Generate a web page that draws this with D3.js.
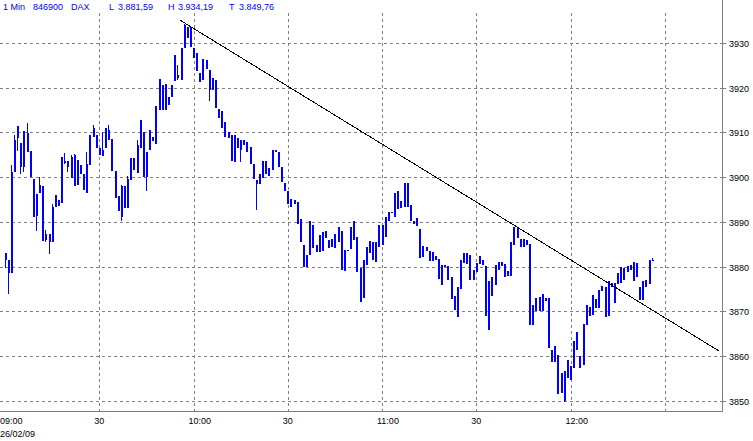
<!DOCTYPE html>
<html><head><meta charset="utf-8">
<script src="https://cdn.jsdelivr.net/npm/d3@7"></script>
<style>
body{margin:0;background:#fff}
svg{display:block}
text{font-family:"Liberation Sans",Arial,sans-serif;font-size:9px}
</style>
</head><body>
<svg id="chart" width="753" height="441"></svg>
<script>
// ---- DATA (1-minute bars, DAX 26/02/09, starting 09:00) ----
const highs = [3883.0,3881.5,3902.7,3909.4,3911.5,3907.6,3910.2,3912.0,3905.8,3899.6,
3896.2,3900.1,3898.0,3888.2,3887.3,3894.0,3896.0,3895.0,3904.6,3905.3,
3903.6,3904.9,3905.2,3903.8,3902.7,3900.8,3905.5,3909.4,3911.6,3909.4,
3906.6,3910.0,3910.9,3911.6,3908.5,3901.4,3895.8,3898.2,3898.0,3900.3,
3904.2,3904.2,3908.3,3912.8,3910.0,3905.5,3910.5,3909.0,3915.9,3921.9,
3920.6,3920.8,3917.8,3920.6,3927.3,3925.0,3928.9,3934.19,3933.6,3933.6,
3928.8,3927.8,3923.3,3926.4,3926.2,3923.9,3922.2,3921.7,3915.2,3914.8,
3912.2,3910.0,3909.3,3909.3,3908.7,3908.3,3908.3,3907.8,3906.8,3902.9,
3899.4,3900.8,3903.6,3903.5,3902.1,3906.1,3906.1,3905.7,3902.3,3898.6,
3896.8,3895.1,3894.9,3894.4,3890.6,3884.8,3882.6,3890.1,3889.3,3884.8,
3887.1,3887.8,3888.0,3886.0,3886.1,3887.4,3888.9,3888.0,3883.7,3883.7,
3888.8,3890.1,3886.7,3879.8,3881.6,3884.5,3885.8,3885.4,3885.4,3889.2,
3889.2,3891.2,3892.1,3892.3,3896.5,3896.8,3894.7,3898.6,3898.6,3893.8,
3890.3,3890.8,3888.4,3884.6,3884.5,3883.4,3883.2,3882.4,3881.7,3880.4,
3880.4,3880.2,3877.8,3873.5,3875.5,3881.5,3883.1,3883.1,3882.6,3879.3,
3880.9,3882.4,3881.5,3880.2,3876.7,3877.8,3880.4,3881.1,3881.1,3880.7,
3879.1,3885.4,3888.9,3888.8,3886.1,3886.1,3886.0,3885.1,3871.4,3872.9,
3873.3,3873.9,3873.1,3872.9,3861.5,3862.3,3860.3,3856.2,3856.6,3859.2,
3857.8,3863.5,3865.5,3860.1,3867.3,3871.4,3870.9,3873.7,3872.7,3874.9,
3875.7,3875.5,3876.7,3876.4,3876.4,3878.5,3879.9,3879.6,3880.2,3880.4,
3881.1,3880.9,3875.4,3876.9,3877.0,3881.6,3881.9];
const lows = [3879.6,3874.0,3878.5,3901.2,3905.9,3900.8,3901.2,3905.7,3900.0,3891.0,
3888.0,3896.5,3885.8,3885.4,3882.8,3885.4,3893.3,3893.6,3894.3,3902.9,
3901.2,3899.7,3898.0,3898.2,3900.8,3897.1,3896.5,3902.7,3909.0,3906.6,
3904.9,3904.8,3906.4,3908.4,3901.4,3895.3,3892.5,3890.3,3893.2,3893.2,
3899.4,3901.6,3901.0,3906.4,3900.0,3897.0,3906.1,3908.1,3907.4,3915.1,
3915.0,3915.1,3916.1,3917.8,3921.5,3921.7,3921.8,3928.8,3931.0,3929.0,
3926.5,3923.6,3921.3,3921.8,3924.2,3917.0,3919.5,3915.4,3913.3,3910.9,
3909.0,3908.7,3903.6,3903.3,3906.6,3903.3,3907.2,3905.7,3902.9,3899.6,
3892.7,3898.4,3899.9,3900.8,3900.3,3901.6,3905.5,3902.3,3898.8,3896.9,
3894.1,3893.4,3894.1,3889.5,3885.6,3880.0,3880.0,3882.6,3884.1,3883.2,
3883.2,3883.4,3886.3,3884.1,3884.3,3884.1,3885.6,3879.3,3879.1,3883.4,
3883.9,3886.0,3878.9,3872.0,3873.1,3880.4,3883.0,3881.5,3881.1,3884.5,
3884.8,3886.7,3890.3,3891.9,3891.2,3892.9,3893.0,3893.4,3893.4,3890.2,
3889.5,3889.1,3881.9,3882.1,3883.4,3881.3,3881.3,3881.6,3877.2,3875.9,
3879.9,3877.0,3872.8,3870.3,3868.8,3875.0,3880.9,3880.7,3877.0,3877.0,
3878.9,3880.7,3880.4,3869.0,3865.9,3873.5,3876.0,3879.3,3880.2,3877.8,
3877.9,3877.9,3884.8,3886.3,3884.3,3884.5,3884.8,3867.0,3867.0,3870.0,
3870.0,3870.0,3872.4,3861.8,3858.6,3858.8,3851.5,3851.7,3849.76,3855.1,
3854.8,3857.3,3861.5,3857.3,3858.0,3867.0,3869.0,3869.2,3870.7,3870.7,
3874.6,3868.7,3869.0,3875.4,3871.8,3876.1,3876.4,3877.0,3878.9,3879.3,
3876.7,3877.8,3872.6,3872.6,3875.4,3876.1,3881.5];
const opens = [3883.0,3881.5,3878.5,3901.2,3911.5,3907.6,3902.3,3909.8,3905.8,3899.6,
3891.3,3896.5,3898.0,3887.4,3885.4,3885.4,3893.3,3893.6,3894.3,3903.1,
3903.6,3899.7,3904.9,3898.2,3902.7,3900.8,3896.5,3902.7,3909.0,3909.4,
3906.6,3904.8,3906.4,3910.5,3908.5,3901.4,3895.8,3891.0,3898.0,3893.2,
3899.4,3904.2,3901.0,3906.4,3910.0,3900.0,3906.1,3908.1,3907.4,3915.1,
3920.6,3915.1,3917.8,3917.8,3921.5,3922.8,3921.8,3928.8,3931.0,3933.6,
3928.8,3927.8,3923.3,3921.8,3926.2,3923.9,3919.5,3921.7,3915.2,3914.8,
3912.2,3910.0,3909.3,3903.3,3906.6,3906.1,3908.3,3907.8,3906.8,3902.9,
3899.4,3898.4,3899.9,3903.5,3900.3,3901.6,3906.1,3905.7,3902.3,3898.6,
3896.8,3895.1,3894.1,3894.4,3890.6,3884.8,3880.0,3882.6,3889.3,3884.8,
3883.2,3883.4,3888.0,3886.0,3884.3,3884.1,3885.6,3888.0,3879.1,3883.4,
3883.9,3890.1,3886.7,3879.8,3873.1,3880.4,3883.0,3885.4,3881.1,3884.5,
3884.8,3886.7,3890.3,3891.9,3891.2,3896.8,3893.0,3893.4,3898.6,3893.8,
3890.3,3889.1,3888.4,3882.1,3884.5,3883.4,3881.3,3882.4,3881.7,3875.9,
3880.4,3880.2,3877.8,3873.5,3868.8,3875.0,3880.9,3883.1,3882.6,3877.0,
3878.9,3880.7,3881.5,3880.2,3865.9,3873.5,3876.0,3879.3,3881.1,3880.7,
3877.9,3877.9,3884.8,3888.8,3886.1,3884.5,3886.0,3885.1,3867.0,3870.0,
3873.3,3870.0,3873.1,3872.9,3861.5,3858.8,3860.3,3851.7,3850.0,3855.1,
3857.8,3857.3,3865.5,3860.1,3858.0,3867.0,3870.9,3869.2,3872.7,3870.7,
3874.6,3875.5,3869.0,3876.4,3871.8,3876.1,3876.4,3877.0,3878.9,3879.3,
3881.1,3880.9,3875.4,3872.6,3875.4,3876.1,3881.5];
const closes = [3881.5,3878.5,3901.2,3908.3,3908.7,3902.3,3910.2,3905.7,3900.0,3891.2,
3896.2,3898.2,3885.8,3886.0,3887.3,3893.4,3896.0,3895.0,3904.6,3903.5,
3902.3,3904.6,3898.0,3903.8,3900.8,3897.1,3902.9,3909.4,3910.9,3906.6,
3904.9,3906.1,3910.9,3908.4,3901.4,3895.3,3892.5,3898.0,3893.2,3899.6,
3904.2,3901.6,3907.2,3912.8,3900.0,3905.5,3910.5,3909.0,3915.9,3921.9,
3915.0,3920.8,3916.1,3920.6,3927.3,3922.1,3928.9,3934.0,3933.6,3929.0,
3926.5,3923.6,3921.3,3926.4,3924.2,3919.5,3922.2,3915.4,3913.3,3910.9,
3909.0,3908.7,3903.6,3909.3,3908.7,3908.3,3907.2,3905.7,3902.9,3899.6,
3898.4,3900.8,3903.6,3900.8,3902.1,3906.1,3905.5,3902.3,3898.8,3896.9,
3894.1,3893.4,3894.9,3889.5,3885.6,3880.0,3882.6,3890.1,3884.1,3883.2,
3887.1,3887.8,3886.3,3884.1,3886.1,3887.4,3888.9,3879.3,3883.7,3883.7,
3888.8,3886.0,3878.9,3872.0,3881.6,3884.5,3885.8,3881.5,3885.4,3889.2,
3889.2,3891.2,3892.1,3892.3,3896.5,3892.9,3894.7,3898.6,3893.4,3890.2,
3889.5,3890.8,3881.9,3884.6,3883.4,3881.3,3883.2,3881.6,3877.2,3880.4,
3879.9,3877.0,3872.8,3870.3,3875.5,3881.5,3883.1,3880.7,3877.0,3879.3,
3880.9,3882.4,3880.4,3869.0,3876.7,3877.8,3880.4,3881.1,3880.2,3877.8,
3879.1,3885.4,3888.9,3886.3,3884.3,3886.1,3884.8,3867.0,3871.4,3872.9,
3870.0,3873.9,3872.4,3861.8,3858.6,3862.3,3851.5,3856.2,3856.6,3859.2,
3854.8,3863.5,3861.5,3857.3,3867.3,3871.4,3869.0,3873.7,3870.7,3874.9,
3875.7,3868.7,3876.7,3875.4,3876.4,3878.5,3879.9,3879.6,3880.2,3880.4,
3876.7,3877.8,3872.6,3876.9,3877.0,3881.6,3881.59];

const xTickMinutes = [0, 30, 60, 90, 120, 150, 180, 210];
const xTickLabels  = ["09:00", "30", "10:00", "30", "11:00", "30", "12:00", ""];
const dateLabel = "26/02/09";
const yTicks = [3850, 3860, 3870, 3880, 3890, 3900, 3910, 3920, 3930];
const trendMinutes = [55.6, 227.2];
const trendPrices  = [3935.1, 3861.2];
const headerTexts = ["1 Min", "846900", "DAX", "L", "3.881,59", "H", "3.934,19", "T", "3.849,76"];

// ---- LAYOUT ----
const svg = d3.select("#chart");
const frameRight = 722, frameBottom = 411, gridTop = 13;
const x = d3.scaleLinear().domain([0, 180]).range([5.1, 570.5]);
const y = d3.scaleLinear().domain([3850, 3930]).range([401, 42.8]);
const blue = "#0000ff", gridColor = "#808080";

// header
const headerX = [3, 33, 71, 109, 118, 168, 178, 229, 239];
svg.append("g").selectAll("text").data(headerTexts).join("text")
  .attr("x", (d, i) => headerX[i]).attr("y", 9.5)
  .attr("fill", blue).text(d => d);

// horizontal grid
const gy = svg.append("g");
yTicks.forEach(t => {
  const yy = Math.round(y(t)) + 0.5;
  gy.append("line").attr("x1", 0).attr("x2", frameRight).attr("y1", yy).attr("y2", yy)
    .attr("stroke", gridColor).attr("stroke-dasharray", "3,3");
  gy.append("line").attr("x1", frameRight).attr("x2", frameRight + 4).attr("y1", yy).attr("y2", yy)
    .attr("stroke", gridColor);
  gy.append("text").attr("x", 729).attr("y", yy + 3.2).attr("fill", "#000").text(t);
});

// vertical grid + labels
const gx = svg.append("g");
xTickMinutes.forEach((m, i) => {
  const xx = Math.round(x(m)) + 0.5;
  if (m > 0) {
    gx.append("line").attr("x1", xx).attr("x2", xx).attr("y1", gridTop).attr("y2", frameBottom)
      .attr("stroke", gridColor).attr("stroke-dasharray", "3,3");
  }
  if (xTickLabels[i]) {
    gx.append("text").attr("x", x(m) - 5).attr("y", 423.5).attr("fill", "#000").text(xTickLabels[i]);
  }
});
gx.append("text").attr("x", 0).attr("y", 437).attr("fill", "#000").text(dateLabel);

// frame
svg.append("line").attr("x1", frameRight + 0.5).attr("x2", frameRight + 0.5).attr("y1", 0).attr("y2", frameBottom + 1)
  .attr("stroke", gridColor);
svg.append("line").attr("x1", 0).attr("x2", frameRight + 1).attr("y1", frameBottom + 0.5).attr("y2", frameBottom + 0.5)
  .attr("stroke", gridColor);

// bars
const bars = highs.map((h, i) => ({i, h, l: lows[i], o: opens[i], c: closes[i]}));
const gb = svg.append("g").attr("shape-rendering", "crispEdges");
gb.selectAll("rect.w").data(bars).join("rect").attr("class", "w")
  .attr("x", d => Math.floor(x(d.i))).attr("width", 1)
  .attr("y", d => Math.round(y(d.h)))
  .attr("height", d => Math.max(1, Math.round(y(d.l)) - Math.round(y(d.h))))
  .attr("fill", blue);
gb.selectAll("rect.b").data(bars).join("rect").attr("class", "b")
  .attr("x", d => Math.floor(x(d.i))).attr("width", 2)
  .attr("y", d => Math.round(y(Math.max(d.o, d.c))))
  .attr("height", d => Math.max(1, Math.round(y(Math.min(d.o, d.c))) - Math.round(y(Math.max(d.o, d.c)))))
  .attr("fill", blue);

// trend line
svg.append("line")
  .attr("x1", x(trendMinutes[0])).attr("y1", y(trendPrices[0]))
  .attr("x2", x(trendMinutes[1])).attr("y2", y(trendPrices[1]))
  .attr("stroke", "#000").attr("stroke-width", 1).attr("shape-rendering", "crispEdges");
</script>
</body></html>
